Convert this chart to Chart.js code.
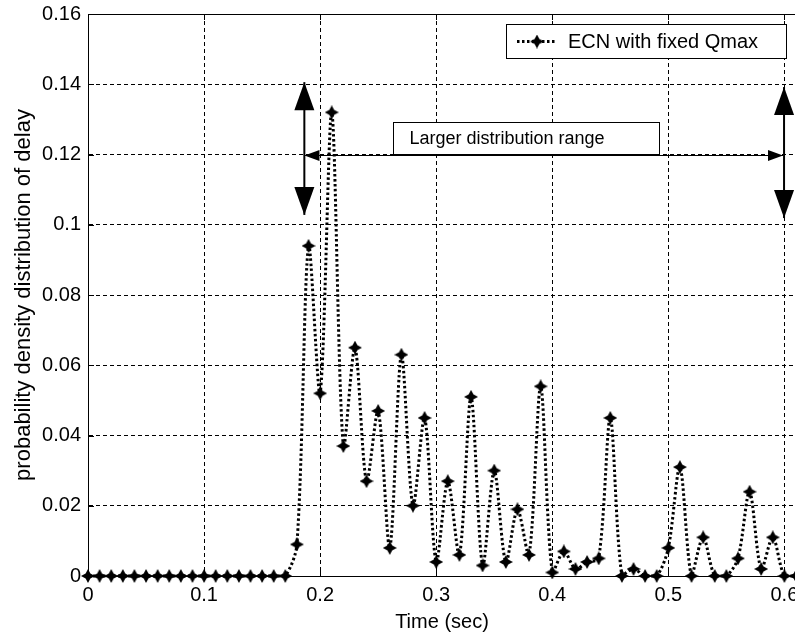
<!DOCTYPE html>
<html>
<head>
<meta charset="utf-8">
<title>ECN with fixed Qmax - delay distribution</title>
<script src="https://cdn.jsdelivr.net/npm/chart.js@4.4.1/dist/chart.umd.min.js"></script>
<style>
  html, body { margin: 0; padding: 0; background: #fff; overflow: hidden; }
  #chart { display: block; }
</style>
</head>
<body>
<!-- canvas is a bit wider than the window: the plot is cropped on the right like the original -->
<canvas id="chart" width="810" height="637"></canvas>
<script>
// ===============================
// DATA
// ===============================
const timeValues = [
  0.00, 0.01, 0.02, 0.03, 0.04, 0.05, 0.06, 0.07, 0.08, 0.09,
  0.10, 0.11, 0.12, 0.13, 0.14, 0.15, 0.16, 0.17, 0.18, 0.19,
  0.20, 0.21, 0.22, 0.23, 0.24, 0.25, 0.26, 0.27, 0.28, 0.29,
  0.30, 0.31, 0.32, 0.33, 0.34, 0.35, 0.36, 0.37, 0.38, 0.39,
  0.40, 0.41, 0.42, 0.43, 0.44, 0.45, 0.46, 0.47, 0.48, 0.49,
  0.50, 0.51, 0.52, 0.53, 0.54, 0.55, 0.56, 0.57, 0.58, 0.59,
  0.60, 0.61
];

const delayDensity = [
  0, 0, 0, 0, 0, 0, 0, 0, 0, 0,
  0, 0, 0, 0, 0, 0, 0, 0, 0.009, 0.094,
  0.052, 0.132, 0.037, 0.065, 0.027, 0.047, 0.008, 0.063, 0.020, 0.045,
  0.004, 0.027, 0.006, 0.051, 0.003, 0.030, 0.004, 0.019, 0.006, 0.054,
  0.001, 0.007, 0.002, 0.004, 0.005, 0.045, 0, 0.002, 0, 0,
  0.008, 0.031, 0, 0.011, 0, 0, 0.005, 0.024, 0.002, 0.011,
  0, 0
];

const xTickValues = [0, 0.1, 0.2, 0.3, 0.4, 0.5, 0.6];
const yTickValues = [0, 0.02, 0.04, 0.06, 0.08, 0.1, 0.12, 0.14, 0.16];

const seriesLabel = "ECN with fixed Qmax";
const rangeLabel = "Larger distribution range";
const xTitle = "Time (sec)";
const yTitle = "probability density distribution of delay";

const FONT = "'Liberation Sans', Arial, Helvetica, sans-serif";

// ===============================
// STAR MARKER (filled 4-point star)
// ===============================
function makeStar(size) {
  const c = document.createElement("canvas");
  c.width = size;
  c.height = size;
  const g = c.getContext("2d");
  const m = size / 2;
  const k = size * 0.17;
  g.fillStyle = "#000";
  g.beginPath();
  g.moveTo(m, 0);
  g.lineTo(m + k, m - k);
  g.lineTo(size, m);
  g.lineTo(m + k, m + k);
  g.lineTo(m, size);
  g.lineTo(m - k, m + k);
  g.lineTo(0, m);
  g.lineTo(m - k, m - k);
  g.closePath();
  g.fill();
  return c;
}
const starMarker = makeStar(14);

// ===============================
// ARROW HELPERS
// ===============================
function arrowHead(ctx, tipX, tipY, dirX, dirY, len, half) {
  const bx = tipX - dirX * len;
  const by = tipY - dirY * len;
  ctx.beginPath();
  ctx.moveTo(tipX, tipY);
  ctx.lineTo(bx - dirY * half, by + dirX * half);
  ctx.lineTo(bx + dirY * half, by - dirX * half);
  ctx.closePath();
  ctx.fill();
}

function doubleArrow(ctx, x1, y1, x2, y2, width, len, half) {
  const d = Math.hypot(x2 - x1, y2 - y1);
  const ux = (x2 - x1) / d;
  const uy = (y2 - y1) / d;
  ctx.lineWidth = width;
  ctx.beginPath();
  ctx.moveTo(x1, y1);
  ctx.lineTo(x2, y2);
  ctx.stroke();
  arrowHead(ctx, x1, y1, -ux, -uy, len, half);
  arrowHead(ctx, x2, y2, ux, uy, len, half);
}

// ===============================
// PLUGIN: frame, annotations, legend
// ===============================
const decorPlugin = {
  id: "decor",
  afterDatasetsDraw(chart) {
    const { ctx, chartArea, scales } = chart;
    const x = scales.x;
    const y = scales.y;

    ctx.save();
    ctx.strokeStyle = "#000";
    ctx.fillStyle = "#000";
    ctx.setLineDash([]);

    // top frame line
    ctx.lineWidth = 1;
    ctx.beginPath();
    ctx.moveTo(chartArea.left, chartArea.top + 0.5);
    ctx.lineTo(chartArea.right, chartArea.top + 0.5);
    ctx.stroke();

    // inward tick marks
    xTickValues.forEach(v => {
      const px = Math.round(x.getPixelForValue(v)) + 0.5;
      ctx.beginPath();
      ctx.moveTo(px, chartArea.top);
      ctx.lineTo(px, chartArea.top + 6);
      ctx.moveTo(px, chartArea.bottom);
      ctx.lineTo(px, chartArea.bottom - 6);
      ctx.stroke();
    });
    yTickValues.forEach(v => {
      const py = Math.round(y.getPixelForValue(v)) + 0.5;
      ctx.beginPath();
      ctx.moveTo(chartArea.left, py);
      ctx.lineTo(chartArea.left + 6, py);
      ctx.stroke();
    });

    // vertical double arrows
    doubleArrow(ctx, x.getPixelForValue(0.1864), y.getPixelForValue(0.1406),
                x.getPixelForValue(0.1864), y.getPixelForValue(0.1028), 2, 28, 10);
    doubleArrow(ctx, x.getPixelForValue(0.5997), y.getPixelForValue(0.1392),
                x.getPixelForValue(0.5997), y.getPixelForValue(0.1019), 2, 28, 10);

    // horizontal range arrow
    const hy = Math.round(y.getPixelForValue(0.12)) + 0.5;
    doubleArrow(ctx, x.getPixelForValue(0.1865), hy,
                x.getPixelForValue(0.5988), hy, 1, 15, 5.5);

    // text box
    const bx1 = Math.round(x.getPixelForValue(0.2632)) + 0.5;
    const bx2 = Math.round(x.getPixelForValue(0.4918)) + 0.5;
    const by1 = Math.round(y.getPixelForValue(0.1292)) + 0.5;
    const by2 = hy - 1;
    ctx.fillStyle = "#fff";
    ctx.fillRect(bx1, by1, bx2 - bx1, by2 - by1);
    ctx.lineWidth = 1;
    ctx.strokeRect(bx1, by1, bx2 - bx1, by2 - by1);
    ctx.fillStyle = "#000";
    ctx.font = "18px " + FONT;
    ctx.textAlign = "left";
    ctx.textBaseline = "middle";
    ctx.fillText(rangeLabel, bx1 + 16, (by1 + by2) / 2 + 1);

    // legend
    const lx1 = 506.5, lx2 = 786.5, ly1 = 24.5, ly2 = 58.5;
    ctx.fillStyle = "#fff";
    ctx.fillRect(lx1, ly1, lx2 - lx1, ly2 - ly1);
    ctx.strokeRect(lx1, ly1, lx2 - lx1, ly2 - ly1);
    const ly = (ly1 + ly2) / 2;
    ctx.strokeStyle = "#000";
    ctx.lineWidth = 3;
    ctx.setLineDash([2.5, 2.5]);
    ctx.beginPath();
    ctx.moveTo(517, ly);
    ctx.lineTo(557, ly);
    ctx.stroke();
    ctx.setLineDash([]);
    ctx.drawImage(starMarker, 537 - 7, ly - 7);
    ctx.fillStyle = "#000";
    ctx.font = "20px " + FONT;
    ctx.fillText(seriesLabel, 568, ly + 1);

    ctx.restore();
  }
};

// ===============================
// CHART
// ===============================
const points = timeValues.map((t, i) => ({ x: t, y: delayDensity[i] }));

new Chart(document.getElementById("chart"), {
  type: "line",
  data: {
    datasets: [{
      label: seriesLabel,
      data: points,
      borderColor: "#000",
      backgroundColor: "#000",
      borderWidth: 3,
      borderDash: [2.5, 2.5],
      tension: 0.3,
      fill: false,
      pointStyle: starMarker,
      pointRadius: 7,
      clip: false
    }]
  },
  options: {
    responsive: false,
    animation: false,
    devicePixelRatio: 1,
    layout: { padding: { top: 14, right: 14, left: 0, bottom: 0 } },
    plugins: {
      legend: { display: false },
      tooltip: { enabled: false }
    },
    scales: {
      x: {
        type: "linear",
        bounds: "data",
        min: 0,
        max: 0.61,
        afterBuildTicks: s => { s.ticks = xTickValues.map(v => ({ value: v })); },
        afterFit: s => { s.height = 61; s.paddingLeft = 0; s.paddingRight = 0; },
        grid: { color: "#000", lineWidth: 1, drawTicks: false },
        border: { display: true, color: "#000", width: 1, dash: [4, 3] },
        ticks: {
          color: "#000",
          padding: 7,
          maxRotation: 0,
          autoSkip: false,
          font: { family: FONT, size: 20 },
          callback: v => String(v)
        },
        title: {
          display: true,
          text: xTitle,
          color: "#000",
          font: { family: FONT, size: 20 },
          padding: { top: 0, bottom: 3 }
        }
      },
      y: {
        type: "linear",
        bounds: "data",
        min: 0,
        max: 0.16,
        afterBuildTicks: s => { s.ticks = yTickValues.map(v => ({ value: v })); },
        afterFit: s => { s.width = 88; s.paddingTop = 0; s.paddingBottom = 0; },
        grid: { color: "#000", lineWidth: 1, drawTicks: false },
        border: { display: true, color: "#000", width: 1, dash: [4, 3] },
        ticks: {
          color: "#000",
          padding: 7,
          autoSkip: false,
          font: { family: FONT, size: 20 },
          callback: v => String(v)
        },
        title: {
          display: true,
          text: yTitle,
          color: "#000",
          font: { family: FONT, size: 22 },
          padding: { top: 11, bottom: 11 }
        }
      }
    }
  },
  plugins: [decorPlugin]
});
</script>
</body>
</html>
